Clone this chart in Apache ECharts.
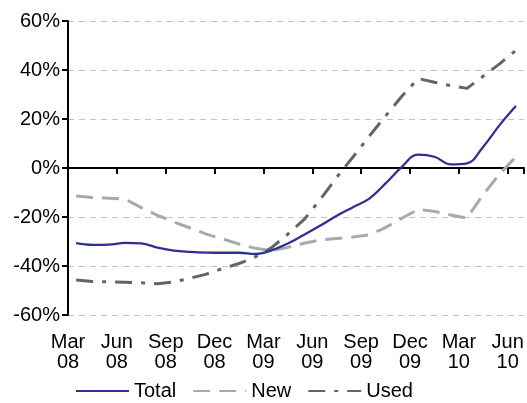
<!DOCTYPE html>
<html><head><meta charset="utf-8">
<script src="https://cdn.jsdelivr.net/npm/echarts@6/dist/echarts.min.js"></script>
<style>html,body{margin:0;padding:0;background:#fff}#c{width:527px;height:403px}</style>
</head><body><div id="c"></div>
<script>
// Monthly, Mar 08 .. Jun 10
const months = ['Mar 08','Apr 08','May 08','Jun 08','Jul 08','Aug 08','Sep 08','Oct 08','Nov 08','Dec 08',
  'Jan 09','Feb 09','Mar 09','Apr 09','May 09','Jun 09','Jul 09','Aug 09','Sep 09','Oct 09','Nov 09','Dec 09',
  'Jan 10','Feb 10','Mar 10','Apr 10','May 10','Jun 10'];
const tickLabels = ['Mar\n08','Jun\n08','Sep\n08','Dec\n08','Mar\n09','Jun\n09','Sep\n09','Dec\n09','Mar\n10','Jun\n10'];
const yTicks = [-60,-40,-20,0,20,40,60];
const total = [-30.7,-31.4,-31.3,-30.6,-30.8,-32.5,-33.7,-34.2,-34.5,-34.6,-34.6,-35.1,-33.6,-30.8,-27.2,-23.5,
  -19.5,-16.0,-12.5,-6.3,0.5,5.5,4.6,1.5,1.9,8.7,17.5,25.3];
const newCars = [-11.4,-12.0,-12.3,-12.7,-16.2,-19.3,-22.0,-24.5,-27.0,-29.0,-31.0,-32.8,-33.7,-32.4,-30.7,-29.4,
  -28.8,-28.2,-27.3,-24.3,-20.5,-16.9,-17.7,-19.2,-20.5,-10.8,-2.5,4.6];
const used = [-45.7,-46.3,-46.5,-46.6,-46.8,-47.2,-46.5,-45.0,-43.3,-41.0,-39.0,-36.3,-32.5,-27.0,-21.0,-12.8,
  -3.8,4.5,13.0,21.2,29.3,36.5,35.0,33.6,32.5,37.5,42.5,48.0];

const toPts = arr => arr.map((v, i) => [i + 0.5, v]);
const font = 'Liberation Sans, Arial, Helvetica, sans-serif';
const chart = echarts.init(document.getElementById('c'), null, {renderer: 'canvas'});
chart.setOption({
  animation: false,
  textStyle: {fontFamily: font},
  grid: {left: 68, right: 0, top: 21, bottom: 88, containLabel: false},
  legend: {
    data: ['Total', 'New', 'Used'], left: 70, top: 376, itemWidth: 53, itemHeight: 14, itemGap: 16,
    itemStyle: {opacity: 0},
    textStyle: {fontSize: 20, color: '#000', fontFamily: font}
  },
  xAxis: [{
    type: 'value', min: 0, max: 28, interval: 3, position: 'bottom',
    axisLine: {show: false, onZero: false}, axisTick: {show: false}, splitLine: {show: false},
    axisLabel: {
      fontSize: 20, color: '#000', lineHeight: 20, margin: 17, fontFamily: font,
      formatter: v => (v % 3 === 0 && v / 3 < tickLabels.length) ? tickLabels[v / 3] : ''
    }
  }, {
    type: 'value', min: 0, max: 28, interval: 3, position: 'bottom',
    axisLine: {show: true, onZero: true, lineStyle: {color: '#000', width: 2}},
    axisTick: {show: true, length: 6, lineStyle: {color: '#000', width: 2}},
    axisLabel: {show: false}, splitLine: {show: false}
  }],
  yAxis: {
    type: 'value', min: yTicks[0], max: yTicks[yTicks.length - 1], interval: 20,
    axisLine: {show: true, onZero: false, lineStyle: {color: '#000', width: 2}},
    axisTick: {show: true, length: 6, lineStyle: {color: '#000', width: 2}},
    axisLabel: {fontSize: 20, color: '#000', margin: 8, fontFamily: font, formatter: v => v + '%'},
    splitLine: {show: true, lineStyle: {color: '#c4c4c4', width: 1, type: [6, 5]}}
  },
  series: [{
    name: 'Total', type: 'line', xAxisIndex: 0, data: toPts(total), smooth: 0.4, symbol: 'none', z: 5,
    lineStyle: {color: '#2e3192', width: 2.3}, itemStyle: {color: '#2e3192'}
  }, {
    name: 'New', type: 'line', xAxisIndex: 0, data: toPts(newCars), symbol: 'none', z: 3,
    lineStyle: {color: '#a7a9ac', width: 3, type: [17, 9]}, itemStyle: {color: '#a7a9ac'}
  }, {
    name: 'Used', type: 'line', xAxisIndex: 0, data: toPts(used), symbol: 'none', z: 4,
    lineStyle: {color: '#636466', width: 3, type: [17, 9, 4, 9]}, itemStyle: {color: '#636466'}
  }]
});
</script></body></html>
